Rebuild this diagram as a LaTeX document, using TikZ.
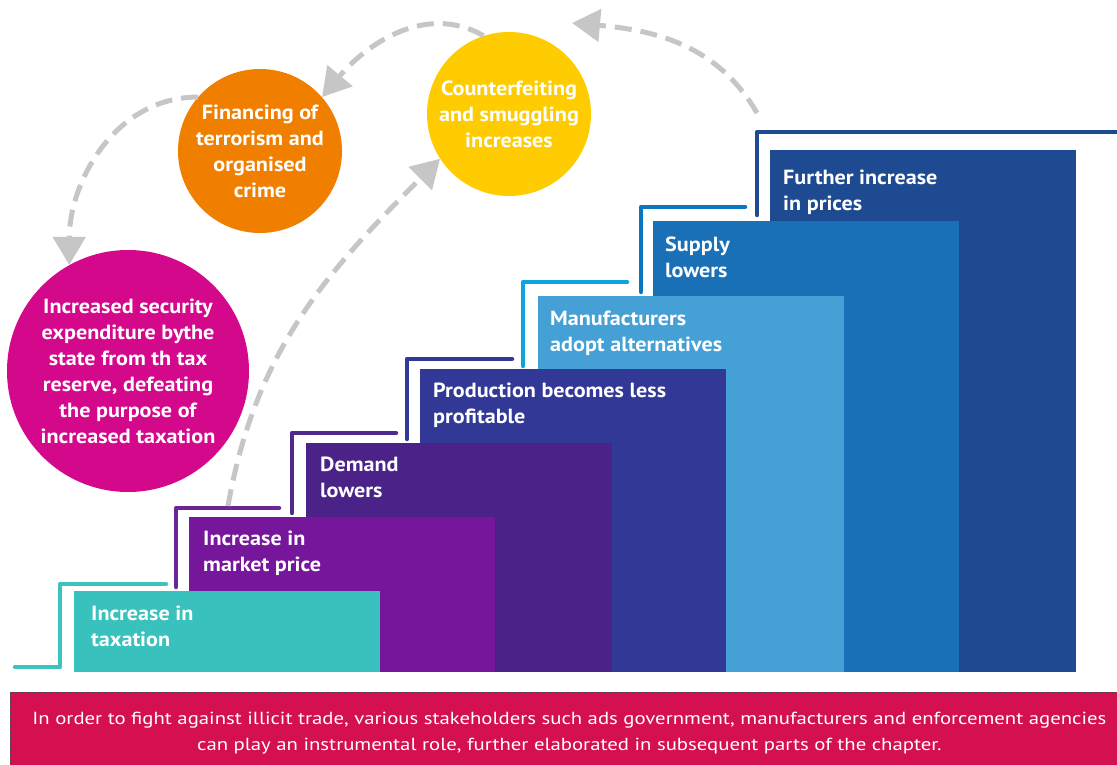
\documentclass[tikz,border=0pt]{standalone}
\usepackage{fontspec}
\setmainfont{PT Sans}
\newfontfamily\stairfont[FakeStretch=1.08]{PT Sans}
\newfontfamily\notefont[FakeStretch=1.185]{PT Sans}
\usetikzlibrary{arrows.meta,positioning}
\definecolor{StTeal}{HTML}{39C2BD}
\definecolor{StPurple}{HTML}{76169A}
\definecolor{StViolet}{HTML}{4B2388}
\definecolor{StIndigo}{HTML}{323896}
\definecolor{StSky}{HTML}{45A0D6}
\definecolor{StAzure}{HTML}{1970B7}
\definecolor{StNavy}{HTML}{1E4A92}
\definecolor{LnTeal}{HTML}{3CC3BF}
\definecolor{LnPurple}{HTML}{6C2594}
\definecolor{LnViolet}{HTML}{4E2A8E}
\definecolor{LnIndigo}{HTML}{323896}
\definecolor{LnSky}{HTML}{0EA5DF}
\definecolor{LnAzure}{HTML}{0A76BF}
\definecolor{LnNavy}{HTML}{1E4A92}
\definecolor{BbMagenta}{HTML}{D4088B}
\definecolor{BbOrange}{HTML}{F07F00}
\definecolor{BbYellow}{HTML}{FECC00}
\definecolor{DashGray}{HTML}{C6C6C6}
\definecolor{NoteRed}{HTML}{D51050}
\definecolor{NoteEdge}{HTML}{4A4A4A}

\begin{document}
\begin{tikzpicture}[
  x=1pt,y=-1pt,
  stairbox/.style={anchor=south west,minimum width=306pt,inner sep=0pt,outer sep=0pt},
  stairtext/.style={inner sep=0pt,align=left,text=white,font=\stairfont\bfseries\fontsize{20.5}{26}\selectfont},
  stairline/.style={line width=4.5pt,line cap=round,line join=round},
  bubble/.style={circle,inner sep=0pt,align=center,text=white,font=\stairfont\bfseries\fontsize{20.5}{26}\selectfont},
  flow/.style={draw=DashGray,line width=5pt,dash pattern=on 17pt off 9pt,-{Triangle[length=28pt,width=32pt]}},
  note/.style={anchor=north west,minimum width=1118pt,minimum height=82pt,fill=NoteRed,draw=NoteEdge,line width=0.8pt,dash pattern=on 2pt off 1pt,text=white,align=center,font=\notefont\fontsize{17.5}{26}\selectfont}
]
\useasboundingbox (0,0) rectangle (1117,765);

% circles
\node[bubble,fill=BbMagenta,minimum size=242pt] (sec) at (128,371) {Increased security\\expenditure bythe\\state from th tax\\reserve, defeating\\the purpose of\\increased taxation};
\node[bubble,fill=BbOrange,minimum size=164pt] (fin) at (260,151) {Financing of\\terrorism and\\organised\\crime};
\node[bubble,fill=BbYellow,minimum size=164pt] (cnt) at (509,114) {Counterfeiting\\and smuggling\\increases};

% stair lines
\draw[stairline,LnTeal] (15,667) -- (60,667) -- (60,584) -- (166,584);
\draw[stairline,LnPurple] (176,587) -- (176,508) -- (279,508);
\draw[stairline,LnViolet] (292,513) -- (292,433) -- (396,433);
\draw[stairline,LnIndigo] (407,439) -- (407,359) -- (512,359);
\draw[stairline,LnSky] (523,366) -- (523,282) -- (627,282);
\draw[stairline,LnAzure] (641,292) -- (641,207) -- (745,207);
\draw[stairline,LnNavy] (757,215) -- (757,132) -- (1125,132);

% steps
\node[stairbox,fill=StNavy,minimum height=522pt] (rise) at (770,672) {};
\node[stairbox,fill=StAzure,minimum height=451pt] (supp) at (653,672) {};
\node[stairbox,fill=StSky,minimum height=376pt] (manu) at (538,672) {};
\node[stairbox,fill=StIndigo,minimum height=303pt] (prod) at (420,672) {};
\node[stairbox,fill=StViolet,minimum height=229pt] (dem) at (306,672) {};
\node[stairbox,fill=StPurple,minimum height=155pt] (mkt) at (189,672) {};
\node[stairbox,fill=StTeal,minimum height=81pt] (tax) at (74,672) {};

\node[stairtext,below right=15pt and 17pt of tax.north west] (taxtxt) {Increase in\\taxation};
\node[stairtext,below right=14pt and 14pt of mkt.north west] (mkttxt) {Increase in\\market price};
\node[stairtext,below right=14pt and 14pt of dem.north west] (demtxt) {Demand\\lowers};
\node[stairtext,below right=14pt and 13pt of prod.north west] (prodtxt) {Production becomes less\\profitable};
\node[stairtext,below right=15pt and 12pt of manu.north west] (manutxt) {Manufacturers\\adopt alternatives};
\node[stairtext,below right=16pt and 12pt of supp.north west] (supptxt) {Supply\\lowers};
\node[stairtext,below right=20pt and 13pt of rise.north west] (risetxt) {Further increase\\in prices};

% dashed feedback arrows
\coordinate (stem) at (228,506);
\coordinate (riseA) at (757,113);
\coordinate (riseB) at (572,23);
\draw[flow] (stem) to[out=80,in=225] (cnt.213);
\draw[flow] (riseA) to[out=120,in=-5] (riseB);
\draw[flow] (cnt.108) to[out=150,in=50] (fin.41);
\draw[flow] (fin.139) to[out=180,in=90] (sec.119);

% note
\node[note] (msg) at (10,692) {In order to fight against illicit trade, various stakeholders such ads government, manufacturers and enforcement agencies\\can play an instrumental role, further elaborated in subsequent parts of the chapter.};
\end{tikzpicture}
\end{document}
